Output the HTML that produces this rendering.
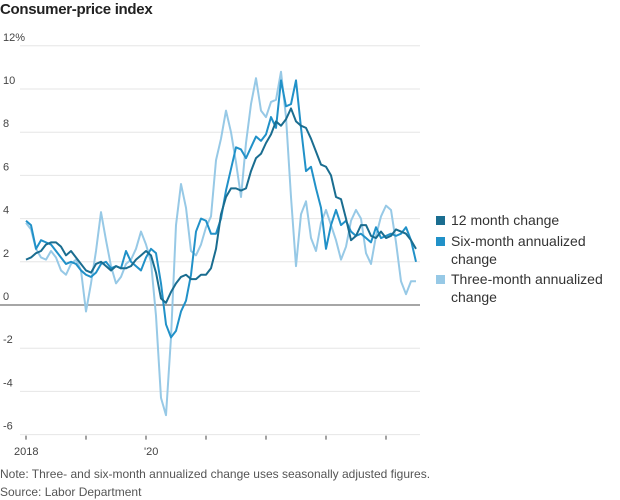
<!DOCTYPE html>
<html><head><meta charset="utf-8">
<style>
body{margin:0;background:#fff;font-family:"Liberation Sans",sans-serif;}
#wrap{position:relative;width:620px;height:500px;overflow:hidden;}
.t{position:absolute;white-space:nowrap;}
</style></head>
<body>
<div id="wrap">
<div class="t" style="left:0;top:1px;font-size:15px;font-weight:bold;color:#222;letter-spacing:-0.3px">Consumer-price index</div>
<svg id="chart" width="620" height="500" style="position:absolute;left:0;top:0"></svg>
<div class="t" style="left:436px;top:212px;font-size:14px;color:#333"><span style="display:inline-block;width:9px;height:9px;background:#1a6d90;margin-right:6px"></span>12 month change</div>
<div class="t" style="left:436px;top:232px;font-size:14px;color:#333;line-height:18px"><span style="display:inline-block;width:9px;height:9px;background:#2191c8;margin-right:6px"></span>Six-month annualized<br><span style="margin-left:15px">change</span></div>
<div class="t" style="left:436px;top:270px;font-size:14px;color:#333;line-height:18px"><span style="display:inline-block;width:9px;height:9px;background:#97c9e6;margin-right:6px"></span>Three-month annualized<br><span style="margin-left:15px">change</span></div>
<div class="t" style="left:0;top:467px;font-size:12px;color:#555">Note: Three- and six-month annualized change uses seasonally adjusted figures.</div>
<div class="t" style="left:0;top:485px;font-size:12px;color:#555">Source: Labor Department</div>
</div>
<script>
const yTicks=[12,10,8,6,4,2,0,-2,-4,-6];
const yTickLabels=["12%","10","8","6","4","2","0","-2","-4","-6"];
const xTickMonths=[0,12,24,36,48,60,72];
const xTickLabels=["2018","","'20","","","",""];
const twelveMonth=[2.1,2.2,2.4,2.5,2.8,2.9,2.9,2.7,2.3,2.5,2.2,1.9,
1.6,1.5,1.9,2.0,1.8,1.6,1.8,1.7,1.7,1.8,2.1,2.3,
2.5,2.3,1.5,0.3,0.1,0.6,1.0,1.3,1.4,1.2,1.2,1.4,
1.4,1.7,2.6,4.2,5.0,5.4,5.4,5.3,5.4,6.2,6.8,7.0,
7.5,7.9,8.5,8.3,8.6,9.1,8.5,8.3,8.2,7.7,7.1,6.5,
6.4,6.0,5.0,4.9,4.0,3.0,3.2,3.7,3.7,3.2,3.1,3.4,
3.1,3.2,3.5,3.4,3.3,3.0,2.6];
const sixMonth=[3.9,3.7,2.6,3.0,2.9,2.8,2.5,2.2,1.9,2.0,1.9,1.6,
1.4,1.3,1.5,1.9,2.0,1.7,1.8,1.7,2.5,2.0,1.8,1.6,
2.2,2.6,2.4,1.0,-0.9,-1.5,-1.2,-0.3,0.2,1.4,3.4,4.0,
3.9,3.3,3.3,4.0,5.3,6.3,7.3,7.2,6.8,7.3,7.8,7.6,
7.9,8.7,8.2,10.4,9.2,9.3,10.4,8.2,6.2,6.4,5.4,4.5,
2.6,3.7,4.4,3.7,3.9,3.4,3.2,3.3,3.1,2.9,3.6,3.1,
3.2,3.3,3.2,3.3,3.6,3.0,2.0];
const threeMonth=[3.8,3.5,2.6,2.2,2.1,2.5,2.2,1.6,1.4,1.9,2.1,1.6,
-0.3,1.0,2.5,4.3,3.0,1.8,1.0,1.3,1.9,2.1,2.6,3.4,
2.8,2.0,-0.5,-4.3,-5.1,-1.5,3.7,5.6,4.5,2.5,2.3,2.8,
3.6,4.1,6.7,7.7,9.0,8.0,6.6,5.0,7.5,9.3,10.5,9.0,
8.7,9.4,9.5,10.8,8.7,5.0,1.8,4.2,4.8,3.1,2.5,3.8,
4.4,3.7,3.0,2.1,2.7,3.9,4.4,4.0,2.4,1.9,3.2,4.1,
4.6,4.4,2.9,1.1,0.5,1.1,1.1];
const NS="http://www.w3.org/2000/svg";
const svg=document.getElementById('chart');
const X0=26,PXM=5,Y0=305,PXU=21.6;
const xs=m=>X0+m*PXM, ys=v=>Y0-v*PXU;
function mk(t,a){const e=document.createElementNS(NS,t);for(const k in a)e.setAttribute(k,a[k]);svg.appendChild(e);return e;}
yTicks.forEach((v,i)=>{
 const l=mk('line',{x1:v===0?0:20,x2:420,y1:ys(v),y2:ys(v),stroke:v===0?'#888':'#e6e6e6','stroke-width':v===0?1.6:1});
 
 
 const t=mk('text',{x:3,y:ys(v)-5,'font-size':11,fill:'#444','font-family':'Liberation Sans, sans-serif'});
 t.textContent=yTickLabels[i];
 
 
});
xTickMonths.forEach((m,i)=>{
 const l=mk('line',{x1:xs(m),x2:xs(m),y1:ys(-6)+1,y2:ys(-6)+5,stroke:'#444','stroke-width':1});
 
 
 if(xTickLabels[i]){const t=mk('text',{x:xs(m)-(i===0?12:2),y:455,'font-size':11,fill:'#444','font-family':'Liberation Sans, sans-serif'});
 t.textContent=xTickLabels[i];
 
 }
});
function line(arr,col,name){
 const p=mk('polyline',{points:arr.map((v,i)=>xs(i)+','+ys(v)).join(' '),fill:'none',stroke:col,'stroke-width':2,'stroke-linejoin':'round'});
 
 
}
line(threeMonth,'#97c9e6','three-month-line');
line(sixMonth,'#2191c8','six-month-line');
line(twelveMonth,'#1a6d90','twelve-month-line');
</script>
</body></html>
